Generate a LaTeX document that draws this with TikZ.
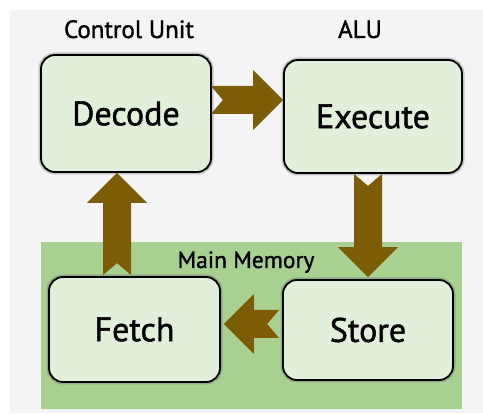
\documentclass[tikz,border=0pt]{standalone}
\usepackage{fontspec}
\setmainfont{PT Sans}
\newfontfamily\medfont{PT Sans}[FakeBold=1.3]
\usetikzlibrary{calc}
\definecolor{arrowcol}{RGB}{124,92,4}
\definecolor{boxfill}{RGB}{226,239,218}
\definecolor{memfill}{RGB}{168,208,144}
\definecolor{bgcol}{RGB}{244,244,244}
\tikzset{
  stagebox/.style={draw=black, line width=1.8pt, fill=boxfill, rounded corners=14pt,
    preaction={draw=black!60, opacity=0.35, line width=5pt},
    inner sep=0pt, font=\medfont\fontsize{34}{36}\selectfont},
  unitlabel/.style={anchor=base, font=\medfont\fontsize{25}{28}\selectfont, inner sep=0pt},
}
\newcommand\fatarrow[2]{%
  \coordinate (fa-h) at ($(#2)!30pt!(#1)$);
  \fill[arrowcol] ($(#1)!14pt!90:(#2)$) -- ($(#1)!12pt!(#2)$) -- ($(#1)!14pt!-90:(#2)$)
    -- ($(fa-h)!14pt!-90:(#2)$) -- ($(fa-h)!30pt!-90:(#2)$) -- (#2)
    -- ($(fa-h)!30pt!90:(#2)$) -- ($(fa-h)!14pt!90:(#2)$) -- cycle;
}
\begin{document}
\begin{tikzpicture}[x=1pt,y=-1pt]
  \useasboundingbox (0,0) rectangle (483,414);
  \fill[white] (0,0) rectangle (483,414);
  \fill[bgcol] (10,10) rectangle (483,413);
  \fill[memfill] (41,242) rectangle (462,409);

  \node[stagebox, minimum width=170pt, minimum height=117pt] (dec) at (126,113.5) {Decode};
  \node[stagebox, minimum width=178pt, minimum height=113pt] (exe) at (373,116.5) {Execute};
  \node[stagebox, minimum width=171pt, minimum height=105pt] (fet) at (134.5,329.5) {Fetch};
  \node[stagebox, minimum width=170pt, minimum height=100pt] (sto) at (368,330) {Store};

  \node[unitlabel] (cu) at (129,38) {Control Unit};
  \node[unitlabel] (alu) at (360,38) {ALU};
  \node[unitlabel, font=\medfont\fontsize{23.5}{26}\selectfont] (mm) at (246,268) {Main Memory};

  % Decode -> Execute
  \coordinate (a1s) at ($(dec.east)+(-1,-13.5)$);
  \coordinate (a1e) at (a1s -| exe.west);
  \fatarrow{a1s}{a1e}
  % Execute -> Store
  \coordinate (a2s) at (sto.north |- exe.south);
  \coordinate (a2e) at ($(sto.north)+(0,-2)$);
  \fatarrow{a2s}{a2e}
  % Store -> Fetch
  \coordinate (a3s) at ($(sto.west)+(-3,-6)$);
  \coordinate (a3e) at ($(a3s -| fet.east)+(3,0)$);
  \fatarrow{a3s}{a3e}
  % Fetch -> Decode
  \coordinate (a4s) at ($(fet.north)+(-17.5,-1)$);
  \coordinate (a4e) at (a4s |- dec.south);
  \fatarrow{a4s}{a4e}
\end{tikzpicture}
\end{document}
